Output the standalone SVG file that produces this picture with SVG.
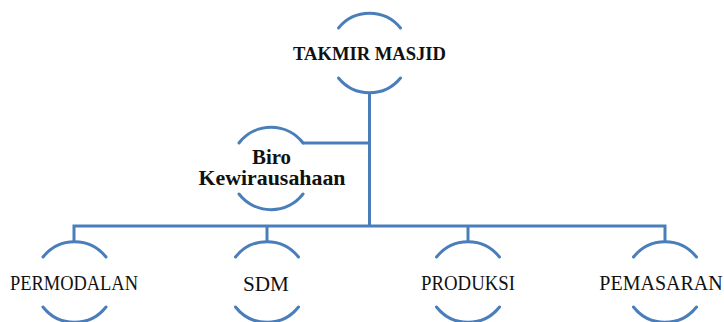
<svg xmlns="http://www.w3.org/2000/svg" width="724" height="322" viewBox="0 0 724 322">
<style>
.ln{fill:none;stroke:#4A7EBB;stroke-width:3;stroke-linecap:butt}
.arc{fill:none;stroke:#4A7EBB;stroke-width:3;stroke-linecap:round}
.b{font-family:"Liberation Serif","DejaVu Serif",serif;font-weight:bold;fill:#111;text-anchor:middle}
.r{font-family:"Liberation Serif","DejaVu Serif",serif;font-size:20px;fill:#111;text-anchor:middle}
</style>
<rect width="724" height="322" fill="#fff"/>
<g id="connectors">
<path class="ln" d="M369.5 93 V226.5"/>
<path class="ln" d="M303 143 H369.5"/>
<path class="ln" d="M74 242 V226 H665 V242"/>
<path class="ln" d="M267 226 V242"/>
<path class="ln" d="M468 226 V242"/>
</g>
<g id="takmir">
<path class="arc" d="M338.5 28 A40 40 0 0 1 400.5 28"/>
<path class="arc" d="M338.5 78 A40 40 0 0 0 400.5 78"/>
<text class="b" x="369.5" y="59.5" font-size="19" textLength="153" lengthAdjust="spacingAndGlyphs">TAKMIR MASJID</text>
</g>
<g id="biro">
<path class="arc" d="M239 143 A40.5 40.5 0 0 1 303 143"/>
<path class="arc" d="M239 194 A40.5 40.5 0 0 0 303 194"/>
<text class="b" x="271.5" y="164" font-size="20.5" textLength="39" lengthAdjust="spacingAndGlyphs">Biro</text>
<text class="b" x="272" y="185" font-size="20.5" textLength="147" lengthAdjust="spacingAndGlyphs">Kewirausahaan</text>
</g>
<g id="permodalan">
<path class="arc" d="M43 257 A40 40 0 0 1 106 257"/>
<path class="arc" d="M43 307 A40 40 0 0 0 106 307"/>
<text class="r" x="74" y="290" textLength="128" lengthAdjust="spacingAndGlyphs">PERMODALAN</text>
</g>
<g id="sdm">
<path class="arc" d="M235.5 257 A40 40 0 0 1 298.5 257"/>
<path class="arc" d="M235.5 307 A40 40 0 0 0 298.5 307"/>
<text class="r" x="266" y="291" textLength="46" lengthAdjust="spacingAndGlyphs">SDM</text>
</g>
<g id="produksi">
<path class="arc" d="M436.5 257 A40 40 0 0 1 499.5 257"/>
<path class="arc" d="M436.5 307 A40 40 0 0 0 499.5 307"/>
<text class="r" x="468" y="290" textLength="94" lengthAdjust="spacingAndGlyphs">PRODUKSI</text>
</g>
<g id="pemasaran">
<path class="arc" d="M633.5 257 A40 40 0 0 1 696.5 257"/>
<path class="arc" d="M633.5 307 A40 40 0 0 0 696.5 307"/>
<text class="r" x="661" y="290" font-size="18.5">PEMASARAN</text>
</g>
</svg>
